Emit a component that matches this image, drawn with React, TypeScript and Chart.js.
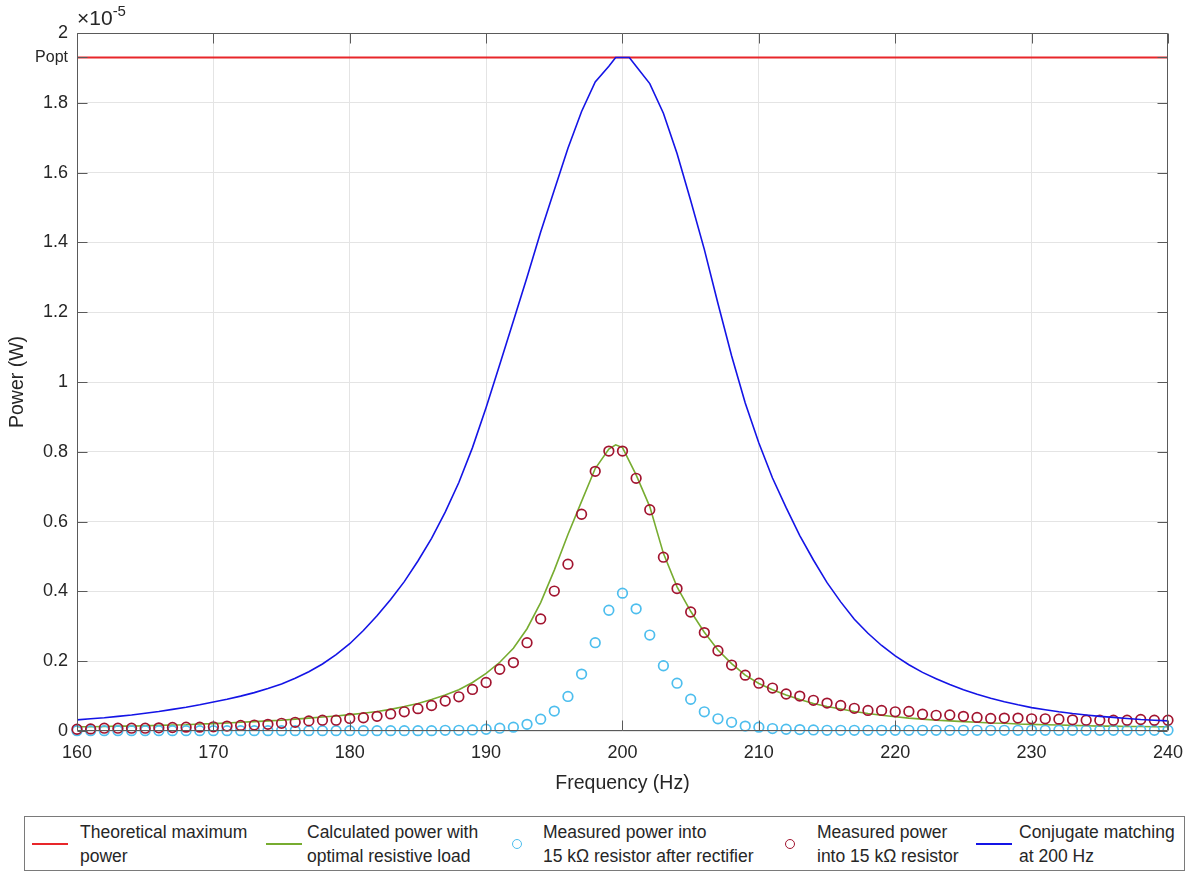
import React, { useEffect, useRef } from "react";
import { Chart, registerables } from "chart.js";

Chart.register(...registerables);

// ---------- data (power values in units of 1e-5 W) ----------
const frequencies = [
  160, 161, 162, 163, 164, 165, 166, 167, 168, 169,
  170, 171, 172, 173, 174, 175, 176, 177, 178, 179,
  180, 181, 182, 183, 184, 185, 186, 187, 188, 189,
  190, 191, 192, 193, 194, 195, 196, 197, 198, 199,
  200, 201, 202, 203, 204, 205, 206, 207, 208, 209,
  210, 211, 212, 213, 214, 215, 216, 217, 218, 219,
  220, 221, 222, 223, 224, 225, 226, 227, 228, 229,
  230, 231, 232, 233, 234, 235, 236, 237, 238, 239, 240,
];

const measuredResistor = [
  0.005, 0.006, 0.008, 0.008, 0.008, 0.008, 0.009, 0.010, 0.011, 0.011,
  0.012, 0.014, 0.016, 0.017, 0.019, 0.022, 0.025, 0.029, 0.031, 0.031,
  0.036, 0.038, 0.042, 0.049, 0.055, 0.064, 0.073, 0.086, 0.098, 0.119,
  0.139, 0.177, 0.196, 0.253, 0.321, 0.401, 0.478, 0.621, 0.744, 0.802,
  0.802, 0.724, 0.634, 0.498, 0.408, 0.341, 0.282, 0.230, 0.189, 0.160,
  0.137, 0.123, 0.106, 0.100, 0.088, 0.080, 0.073, 0.065, 0.059, 0.059,
  0.055, 0.056, 0.048, 0.045, 0.046, 0.042, 0.039, 0.036, 0.037, 0.037,
  0.035, 0.035, 0.034, 0.032, 0.031, 0.031, 0.031, 0.031, 0.033, 0.031, 0.031,
];

const measuredRectified = [
  0.001, 0.001, 0.001, 0.001, 0.001, 0.001, 0.001, 0.001, 0.001, 0.001,
  0.001, 0.001, 0.001, 0.001, 0.001, 0.001, 0.001, 0.001, 0.001, 0.001,
  0.001, 0.001, 0.001, 0.001, 0.001, 0.001, 0.001, 0.002, 0.002, 0.003,
  0.005, 0.008, 0.011, 0.019, 0.034, 0.057, 0.099, 0.163, 0.253, 0.346,
  0.395, 0.350, 0.275, 0.187, 0.137, 0.091, 0.055, 0.035, 0.025, 0.014,
  0.011, 0.007, 0.005, 0.004, 0.003, 0.002, 0.002, 0.002, 0.002, 0.002,
  0.002, 0.002, 0.002, 0.002, 0.002, 0.002, 0.002, 0.002, 0.002, 0.002,
  0.002, 0.002, 0.002, 0.002, 0.002, 0.002, 0.002, 0.002, 0.002, 0.002, 0.002,
];

const calcFrequencies = [
  160, 161, 162, 163, 164, 165, 166, 167, 168, 169,
  170, 171, 172, 173, 174, 175, 176, 177, 178, 179,
  180, 181, 182, 183, 184, 185, 186, 187, 188, 189,
  190, 191, 192, 193, 194, 195, 196, 197, 198, 199, 199.5,
  200, 201, 202, 203, 204, 205, 206, 207, 208, 209,
  210, 211, 212, 213, 214, 215, 216, 217, 218, 219,
  220, 221, 222, 223, 224, 225, 226, 227, 228, 229,
  230, 231, 232, 233, 234, 235, 236, 237, 238, 239, 240,
];

const calculatedPower = [
  0.012, 0.012, 0.013, 0.014, 0.014, 0.015, 0.016, 0.017, 0.018, 0.020,
  0.021, 0.023, 0.025, 0.027, 0.029, 0.031, 0.034, 0.037, 0.040, 0.043,
  0.047, 0.051, 0.056, 0.062, 0.070, 0.079, 0.090, 0.103, 0.118, 0.139,
  0.165, 0.197, 0.237, 0.293, 0.368, 0.461, 0.563, 0.658, 0.752, 0.808, 0.820,
  0.812, 0.734, 0.643, 0.509, 0.413, 0.343, 0.283, 0.232, 0.193, 0.160,
  0.136, 0.118, 0.103, 0.090, 0.079, 0.070, 0.063, 0.056, 0.050, 0.045,
  0.041, 0.037, 0.034, 0.031, 0.029, 0.027, 0.025, 0.023, 0.022, 0.020,
  0.019, 0.018, 0.017, 0.016, 0.015, 0.014, 0.014, 0.013, 0.013, 0.012, 0.012,
];

const conjFrequencies = [
  160, 161, 162, 163, 164, 165, 166, 167, 168, 169,
  170, 171, 172, 173, 174, 175, 176, 177, 178, 179,
  180, 181, 182, 183, 184, 185, 186, 187, 188, 189,
  190, 191, 192, 193, 194, 195, 196, 197, 198, 199, 199.5,
  200.5, 201, 202, 203, 204, 205, 206, 207, 208, 209,
  210, 211, 212, 213, 214, 215, 216, 217, 218, 219,
  220, 221, 222, 223, 224, 225, 226, 227, 228, 229,
  230, 231, 232, 233, 234, 235, 236, 237, 238, 239, 240,
];

const conjugatePower = [
  0.032, 0.035, 0.038, 0.042, 0.046, 0.051, 0.056, 0.062, 0.068, 0.075,
  0.083, 0.091, 0.100, 0.110, 0.122, 0.135, 0.151, 0.170, 0.192, 0.219,
  0.250, 0.288, 0.330, 0.377, 0.428, 0.487, 0.552, 0.627, 0.712, 0.812,
  0.927, 1.050, 1.175, 1.300, 1.430, 1.550, 1.670, 1.775, 1.860, 1.905, 1.930,
  1.930, 1.905, 1.855, 1.770, 1.655, 1.520, 1.380, 1.225, 1.075, 0.940,
  0.825, 0.725, 0.640, 0.560, 0.490, 0.425, 0.370, 0.320, 0.280, 0.245,
  0.215, 0.190, 0.168, 0.150, 0.133, 0.118, 0.105, 0.094, 0.084, 0.075,
  0.067, 0.061, 0.055, 0.050, 0.046, 0.042, 0.039, 0.036, 0.033, 0.031, 0.029,
];

const poptValue = 1.93;
const poptRange = [160, 240];
const xTickValues = [160, 170, 180, 190, 200, 210, 220, 230, 240];
const yTickValues = [0, 0.2, 0.4, 0.6, 0.8, 1, 1.2, 1.4, 1.6, 1.8, 2];

const legendLabels = [
  ["Theoretical maximum", "power"],
  ["Calculated power with", "optimal resistive load"],
  ["Measured power into", "15 kΩ resistor after rectifier"],
  ["Measured power", "into 15 kΩ resistor"],
  ["Conjugate matching", "at 200 Hz"],
];

const FONT = "'Liberation Sans', Arial, Helvetica, sans-serif";
const TEXT = "#262626";
const AXIS = "#5a5a5a";
const GRID = "#e4e4e4";
const RED_LINE = "#e8262a";
const GREEN = "#77AC30";
const CYAN = "#4DBEEE";
const DARK_RED = "#A2142F";
const BLUE = "#1414e6";

const toPoints = (xs: number[], ys: number[]) => xs.map((x, i) => ({ x, y: ys[i] }));

const axisBoxPlugin = {
  id: "axisBox",
  afterDraw(chart: any) {
    const { ctx, chartArea: a, scales } = chart;
    ctx.save();
    ctx.strokeStyle = AXIS;
    ctx.lineWidth = 1;
    const L = Math.round(a.left) + 0.5;
    const R = Math.round(a.right) - 0.5;
    const T = Math.round(a.top) + 0.5;
    const B = Math.round(a.bottom) - 0.5;
    ctx.beginPath();
    ctx.rect(L, T, R - L, B - T);
    ctx.stroke();
    const tl = 10;
    ctx.beginPath();
    for (const v of xTickValues) {
      const px = Math.round(scales.x.getPixelForValue(v)) + 0.5;
      ctx.moveTo(px, B);
      ctx.lineTo(px, B - tl);
      ctx.moveTo(px, T);
      ctx.lineTo(px, T + tl);
    }
    for (const v of [...yTickValues, poptValue]) {
      const py = Math.round(scales.y.getPixelForValue(v)) + 0.5;
      ctx.moveTo(L, py);
      ctx.lineTo(L + tl, py);
      ctx.moveTo(R, py);
      ctx.lineTo(R - tl, py);
    }
    ctx.stroke();
    ctx.restore();
  },
};

function LegendSample({ kind, color, left }: { kind: string; color: string; left: number }) {
  if (kind === "line") {
    return (
      <div
        style={{
          position: "absolute",
          left,
          top: 843,
          width: 36,
          height: 0,
          borderTop: `2px solid ${color}`,
        }}
      />
    );
  }
  return (
    <div
      style={{
        position: "absolute",
        left: left - 5,
        top: 839,
        width: 10,
        height: 10,
        boxSizing: "border-box",
        borderRadius: "50%",
        border: `1.7px solid ${color}`,
      }}
    />
  );
}

export default function App() {
  const canvasRef = useRef<HTMLCanvasElement | null>(null);

  useEffect(() => {
    const canvas = canvasRef.current;
    if (!canvas) return;
    const chart = new Chart(canvas, {
      type: "scatter",
      data: {
        datasets: [
          {
            label: "Theoretical maximum power",
            data: poptRange.map((x) => ({ x, y: poptValue })),
            showLine: true,
            borderColor: RED_LINE,
            borderWidth: 2,
            pointRadius: 0,
            order: 5,
          },
          {
            label: "Calculated power with optimal resistive load",
            data: toPoints(calcFrequencies, calculatedPower),
            showLine: true,
            borderColor: GREEN,
            borderWidth: 1.6,
            pointRadius: 0,
            order: 4,
          },
          {
            label: "Measured power into 15 kΩ resistor after rectifier",
            data: toPoints(frequencies, measuredRectified),
            showLine: false,
            borderColor: CYAN,
            backgroundColor: "rgba(0,0,0,0)",
            pointRadius: 4.8,
            pointBorderWidth: 1.7,
            clip: false,
            order: 3,
          },
          {
            label: "Measured power into 15 kΩ resistor",
            data: toPoints(frequencies, measuredResistor),
            showLine: false,
            borderColor: DARK_RED,
            backgroundColor: "rgba(0,0,0,0)",
            pointRadius: 4.8,
            pointBorderWidth: 1.7,
            clip: false,
            order: 2,
          },
          {
            label: "Conjugate matching at 200 Hz",
            data: toPoints(conjFrequencies, conjugatePower),
            showLine: true,
            borderColor: BLUE,
            borderWidth: 1.6,
            pointRadius: 0,
            order: 1,
          },
        ],
      } as any,
      options: {
        animation: false,
        responsive: false,
        maintainAspectRatio: false,
        layout: { padding: { left: 0, right: 22, top: 33, bottom: 79 } },
        plugins: {
          legend: { display: false },
          tooltip: { enabled: false },
        },
        scales: {
          x: {
            type: "linear",
            min: 160,
            max: 240,
            afterBuildTicks: (s: any) => {
              s.ticks = xTickValues.map((v) => ({ value: v }));
            },
            afterFit: (s: any) => {
              s.height = 64;
            },
            ticks: {
              padding: 11,
              color: TEXT,
              font: { family: FONT, size: 18 },
              maxRotation: 0,
              callback: (v: any) => String(v),
            },
            grid: { color: GRID, drawTicks: false, lineWidth: 1 },
            border: { display: false },
            title: {
              display: true,
              text: "Frequency (Hz)",
              color: TEXT,
              font: { family: FONT, size: 19.5 },
              padding: { top: 0, bottom: 0 },
            },
          },
          y: {
            type: "linear",
            min: 0,
            max: 2,
            afterBuildTicks: (s: any) => {
              s.ticks = [...yTickValues, poptValue]
                .sort((a, b) => a - b)
                .map((v) => ({ value: v }));
            },
            afterFit: (s: any) => {
              s.width = 77;
            },
            ticks: {
              padding: 9,
              color: TEXT,
              font: (ctx: any) => ({
                family: FONT,
                size: ctx.tick && ctx.tick.value === poptValue ? 16 : 18,
              }),
              callback: (v: any) =>
                v === poptValue ? "Popt" : String(Math.round(Number(v) * 10) / 10),
            },
            grid: {
              color: (ctx: any) =>
                ctx.tick && ctx.tick.value === poptValue ? "rgba(0,0,0,0)" : GRID,
              drawTicks: false,
              lineWidth: 1,
            },
            border: { display: false },
            title: {
              display: true,
              text: "Power (W)",
              color: TEXT,
              font: { family: FONT, size: 19.5 },
              padding: { top: 6, bottom: 0 },
            },
          },
        },
      } as any,
      plugins: [axisBoxPlugin],
    });
    return () => chart.destroy();
  }, []);

  const textStyle = (left: number): React.CSSProperties => ({
    position: "absolute",
    left,
    top: 820,
    fontFamily: FONT,
    fontSize: 17.5,
    lineHeight: "24px",
    color: TEXT,
    whiteSpace: "nowrap",
  });

  return (
    <div
      style={{
        position: "absolute",
        left: 0,
        top: 0,
        width: 1194,
        height: 874,
        background: "#ffffff",
        overflow: "hidden",
      }}
    >
      <canvas ref={canvasRef} width={1194} height={874} style={{ display: "block" }} />
      <div
        style={{
          position: "absolute",
          left: 77,
          top: 6,
          fontFamily: FONT,
          fontSize: 21,
          lineHeight: "24px",
          color: TEXT,
          whiteSpace: "nowrap",
        }}
      >
        ×10<span style={{ fontSize: 15, position: "relative", top: -9 }}>-5</span>
      </div>
      <div
        style={{
          position: "absolute",
          left: 24,
          top: 816,
          width: 1161,
          height: 55,
          border: "1px solid #7a7a7a",
          boxSizing: "border-box",
          background: "#fff",
        }}
      />
      <LegendSample kind="line" color={RED_LINE} left={32} />
      <div style={textStyle(80)}>{legendLabels[0][0]}<br />{legendLabels[0][1]}</div>
      <LegendSample kind="line" color={GREEN} left={266} />
      <div style={textStyle(307)}>{legendLabels[1][0]}<br />{legendLabels[1][1]}</div>
      <LegendSample kind="circle" color={CYAN} left={517} />
      <div style={textStyle(543)}>{legendLabels[2][0]}<br />{legendLabels[2][1]}</div>
      <LegendSample kind="circle" color={DARK_RED} left={790} />
      <div style={textStyle(817)}>{legendLabels[3][0]}<br />{legendLabels[3][1]}</div>
      <LegendSample kind="line" color={BLUE} left={976} />
      <div style={textStyle(1019)}>{legendLabels[4][0]}<br />{legendLabels[4][1]}</div>
    </div>
  );
}
